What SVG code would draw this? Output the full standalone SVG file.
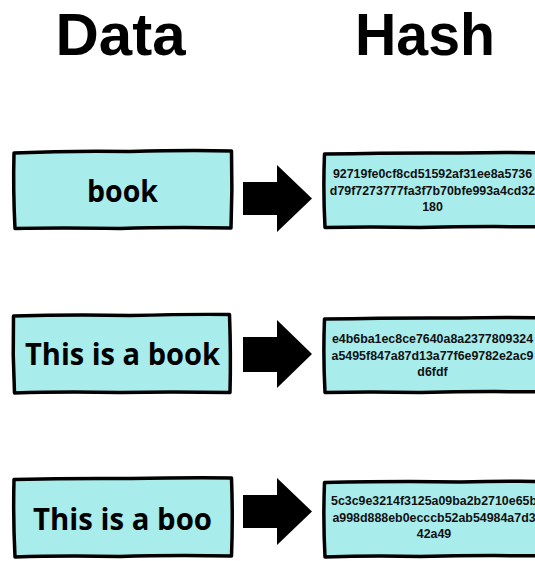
<svg xmlns="http://www.w3.org/2000/svg" width="535" height="561" viewBox="0 0 535 561">
  <style>
    .title { font-family: "Liberation Sans", Arial, sans-serif; font-weight: 700; font-size: 60px; fill: #000; text-anchor: middle; }
    .box { fill: #a9ecec; stroke: #000; stroke-width: 3.5; stroke-linejoin: round; stroke-linecap: round; }
    .label { font-family: "Open Sans", "Noto Sans", sans-serif; font-weight: 700; font-size: 30px; fill: #000; text-anchor: middle; }
    .hash { font-family: "Liberation Sans", Arial, sans-serif; font-weight: 700; font-size: 12.4px; fill: #111; text-anchor: middle; }
    .arrow { fill: #000; }
  </style>
  <rect width="535" height="561" fill="#fff"/>

  <!-- column headings -->
  <text class="title" x="120.5" y="55">Data</text>
  <text class="title" x="425" y="55" textLength="140" lengthAdjust="spacingAndGlyphs">Hash</text>

  <!-- data boxes -->
  <g id="data-book">
    <path class="box" d="M14,153 Q70,150.5 130,151.5 Q190,150 231.5,151 Q232.5,190 231,228 Q170,227 120,228.5 Q60,227.5 15,228.5 Q13,190 14,153 Z"/>
    <text class="label" x="122.5" y="202" textLength="71" lengthAdjust="spacingAndGlyphs">book</text>
  </g>
  <g id="data-this-is-a-book">
    <path class="box" d="M13.5,316 Q70,314.5 130,315.5 Q190,314 229.5,314.5 Q231,355 230,392.5 Q170,391.5 120,392.5 Q60,391.5 14.5,393 Q12.5,355 13.5,316 Z"/>
    <text class="label" x="122.5" y="365" textLength="195" lengthAdjust="spacingAndGlyphs">This is a book</text>
  </g>
  <g id="data-this-is-a-boo">
    <path class="box" d="M14,479.5 Q70,478 130,478.5 Q190,477.5 231.5,478 Q233,518 231.5,556 Q170,555 120,556.5 Q60,555.5 15,557 Q13,518 14,479.5 Z"/>
    <text class="label" x="122.5" y="530" textLength="179" lengthAdjust="spacingAndGlyphs">This is a boo</text>
  </g>

  <!-- connectors -->
  <g id="arrows">
    <polygon class="arrow" points="243,182 277,182 277,165 312,198.5 277,232 277,215 243,215"/>
    <polygon class="arrow" points="243,337 277,337 277,320 312,354 277,388 277,372 243,372"/>
    <polygon class="arrow" points="243,495 277,495 277,478 312,511.5 277,545 277,528 243,528"/>
  </g>

  <!-- hash boxes -->
  <g id="hash-book">
    <path class="box" d="M324.5,154 Q400,152.5 460,153 Q510,152 545,153 L545,227 Q480,226 420,227.5 Q370,226.5 325,227.5 Q323,190 324.5,154 Z"/>
    <text class="hash" x="432.5" y="178">92719fe0cf8cd51592af31ee8a5736</text>
    <text class="hash" x="432.5" y="195">d79f7273777fa3f7b70bfe993a4cd32</text>
    <text class="hash" x="432.5" y="211">180</text>
  </g>
  <g id="hash-this-is-a-book">
    <path class="box" d="M324.5,319 Q400,317.5 460,318 Q510,317 545,318 L545,392 Q480,391 420,392.5 Q370,391.5 325,392.5 Q323,355 324.5,319 Z"/>
    <text class="hash" x="432.5" y="343">e4b6ba1ec8ce7640a8a2377809324</text>
    <text class="hash" x="432.5" y="360">a5495f847a87d13a77f6e9782e2ac9</text>
    <text class="hash" x="432.5" y="376">d6fdf</text>
  </g>
  <g id="hash-this-is-a-boo">
    <path class="box" d="M324.5,482.5 Q400,481 460,482 Q510,481 545,481.5 L545,556 Q480,555 420,556.5 Q370,555.5 325,557 Q323,520 324.5,482.5 Z"/>
    <text class="hash" x="434" y="505">5c3c9e3214f3125a09ba2b2710e65b</text>
    <text class="hash" x="434" y="521.5">a998d888eb0ecccb52ab54984a7d3</text>
    <text class="hash" x="434" y="537.5">42a49</text>
  </g>
</svg>
